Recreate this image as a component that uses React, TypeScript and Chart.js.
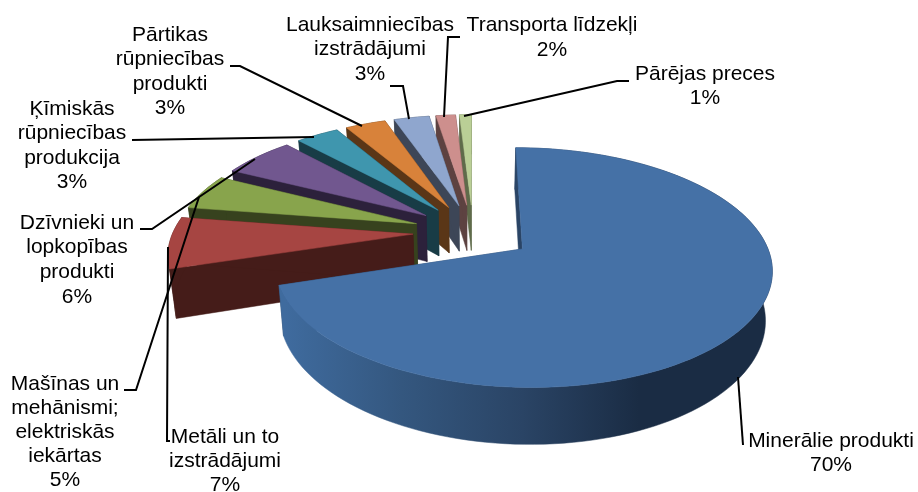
import React, { useEffect, useRef } from "react";
import { Chart, registerables } from "chart.js";

Chart.register(...registerables);

const categories = [
  "Minerālie produkti",
  "Metāli un to izstrādājumi",
  "Mašīnas un mehānismi; elektriskās iekārtas",
  "Dzīvnieki un lopkopības produkti",
  "Ķīmiskās rūpniecības produkcija",
  "Pārtikas rūpniecības produkti",
  "Lauksaimniecības izstrādājumi",
  "Transporta līdzekļi",
  "Pārējas preces",
];
const shares = [70.2, 7.2, 5, 5.7, 3.4, 3.2, 2.8, 1.55, 0.95];
const topColors = ["#4571A6", "#A64542", "#88A44C", "#71578F", "#3F96AE", "#D8823A", "#8FA6CE", "#CD8F8D", "#BACF96"];
const sideColors = ["#2A4465", "#451C19", "#37421E", "#2C213B", "#183C46", "#5A3617", "#3D4657", "#5D4241", "#5F6B4A"];

// How each category name wraps, and where its label and leader line sit.
const wrappedNames = [
  ["Minerālie produkti"],
  ["Metāli un to", "izstrādājumi"],
  ["Mašīnas un", "mehānismi;", "elektriskās", "iekārtas"],
  ["Dzīvnieki un", "lopkopības", "produkti"],
  ["Ķīmiskās", "rūpniecības", "produkcija"],
  ["Pārtikas", "rūpniecības", "produkti"],
  ["Lauksaimniecības", "izstrādājumi"],
  ["Transporta līdzekļi"],
  ["Pārējas preces"],
];
const labelCenters = [
  [831, 441],
  [225, 437],
  [65, 384],
  [77, 223],
  [72, 109],
  [170, 35],
  [370, 25],
  [552, 25],
  [705, 74],
];
const labelLeading = [24.4, 24, 24, 24.6, 24.4, 24.4, 24.4, 25, 24.4];
const leaders = [
  [[743, 445], [738, 377]],
  [[170, 441], [167, 441], [168, 247]],
  [[124, 390], [136, 390], [199, 197]],
  [[140, 229], [152, 229], [255, 159]],
  [[132, 140], [314, 137]],
  [[230, 66], [240, 66], [362, 126]],
  [[390, 86], [403, 86], [409, 119]],
  [[460, 37], [448, 37], [444, 117]],
  [[629, 81], [617, 81], [464, 116]],
];

const PERSPECTIVE = 0.000634;
const FLATTEN = 0.4655;
const DEPTH = 47;
const BOTTOM_SHRINK = 0.023;

const pie3d = {
  id: "pie3d",
  beforeDatasetsDraw(chart: any) {
    const ctx = chart.ctx;
    const arcs = chart.getDatasetMeta(0).data;
    const project = (cx: number, cy: number, u: number, v: number, t: number) => {
      const w = 1 - PERSPECTIVE * v;
      return [cx + (u / w) * (1 - BOTTOM_SHRINK * t), cy + (FLATTEN * v) / w + (t * DEPTH) / w];
    };
    const order = arcs.map((_: any, i: number) => i).slice(1).reverse().concat([0]);
    for (const i of order) {
      const arc = arcs[i];
      const { x, y, startAngle, endAngle, outerRadius } = arc;
      const shift = (arc.options.offset || 0) / 4;
      const mid = (startAngle + endAngle) / 2;
      const ou = Math.cos(mid) * shift;
      const ov = Math.sin(mid) * shift;
      const steps = Math.max(2, Math.ceil(((endAngle - startAngle) * 180) / Math.PI / 2));
      const rim: number[][] = [];
      for (let s = 0; s <= steps; s++) {
        const a = startAngle + ((endAngle - startAngle) * s) / steps;
        rim.push([ou + Math.cos(a) * outerRadius, ov + Math.sin(a) * outerRadius]);
      }
      const poly = (pts: number[][], fill: any) => {
        ctx.beginPath();
        pts.forEach((p, n) => (n ? ctx.lineTo(p[0], p[1]) : ctx.moveTo(p[0], p[1])));
        ctx.closePath();
        ctx.fillStyle = fill;
        ctx.fill();
        ctx.strokeStyle = fill;
        ctx.lineWidth = 0.5;
        ctx.stroke();
      };
      const P = (p: number[], t: number) => project(x, y, p[0], p[1], t);
      const apex = [ou, ov];
      // radial cut walls
      poly([P(apex, 0), P(rim[0], 0), P(rim[0], 1), P(apex, 1)], sideColors[i]);
      poly([P(apex, 0), P(rim[steps], 0), P(rim[steps], 1), P(apex, 1)], sideColors[i]);
      // rim wall
      let wallFill: any = sideColors[i];
      if (i === 0) {
        const g = ctx.createLinearGradient(285, 0, 770, 0);
        g.addColorStop(0, "#3F6B9E");
        g.addColorStop(0.24, "#34577F");
        g.addColorStop(0.49, "#2A4465");
        g.addColorStop(0.73, "#1A2C44");
        g.addColorStop(1, "#1A2C44");
        wallFill = g;
      }
      poly(
        rim.map((p) => P(p, 0)).concat(rim.slice().reverse().map((p) => P(p, 1))),
        wallFill
      );
      // top face
      poly([P(apex, 0)].concat(rim.map((p) => P(p, 0))), topColors[i]);
    }
    // leader lines
    ctx.strokeStyle = "#000000";
    ctx.lineWidth = 2;
    ctx.lineJoin = "miter";
    leaders.forEach((pts) => {
      ctx.beginPath();
      pts.forEach((p, n) => (n ? ctx.lineTo(p[0], p[1]) : ctx.moveTo(p[0], p[1])));
      ctx.stroke();
    });
    // labels
    ctx.fillStyle = "#000000";
    ctx.font = '21px "Liberation Sans"';
    ctx.textAlign = "center";
    ctx.textBaseline = "middle";
    categories.forEach((_, i) => {
      const lines = wrappedNames[i].concat([`${Math.round(shares[i])}%`]);
      lines.forEach((line, n) => {
        ctx.fillText(line, labelCenters[i][0], labelCenters[i][1] + n * labelLeading[i]);
      });
    });
    return false;
  },
};

export default function App() {
  const ref = useRef<HTMLCanvasElement | null>(null);
  useEffect(() => {
    const chart = new Chart(ref.current as HTMLCanvasElement, {
      type: "pie",
      data: {
        labels: categories,
        datasets: [
          {
            data: shares,
            backgroundColor: topColors,
            borderWidth: 0,
            offset: 240,
          },
        ],
      },
      options: {
        responsive: false,
        animation: false,
        radius: 240,
        layout: { padding: { left: 28, right: 0, top: 0, bottom: 28 } },
        plugins: { legend: { display: false }, tooltip: { enabled: false } },
      },
      plugins: [pie3d],
    } as any);
    return () => chart.destroy();
  }, []);
  return (
    <div style={{ position: "fixed", left: 0, top: 0, width: 918, height: 492, background: "#fff" }}>
      <canvas ref={ref} width={918} height={492} style={{ display: "block" }} />
    </div>
  );
}
